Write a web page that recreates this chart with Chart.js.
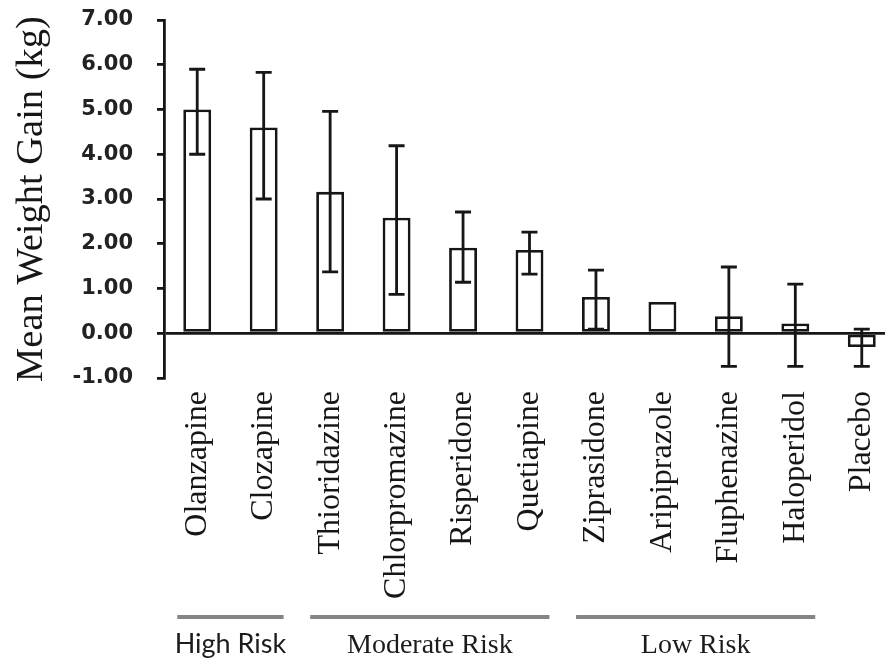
<!DOCTYPE html>
<html>
<head>
<meta charset="utf-8">
<title>Mean Weight Gain by Antipsychotic</title>
<script src="https://cdn.jsdelivr.net/npm/chart.js@4.4.0/dist/chart.umd.min.js"></script>
<style>
  html, body { margin: 0; padding: 0; background: #fff; overflow: hidden; }
  canvas { display: block; }
</style>
</head>
<body>
<canvas id="gainChart" width="895" height="664"></canvas>
<script>
const drugs = ['Olanzapine', 'Clozapine', 'Thioridazine', 'Chlorpromazine', 'Risperidone',
  'Quetiapine', 'Ziprasidone', 'Aripiprazole', 'Fluphenazine', 'Haloperidol', 'Placebo'];
const meanGain = [5.00, 4.60, 3.16, 2.58, 1.91, 1.86, 0.81, 0.70, 0.38, 0.22, -0.31];
const errLow  = [4.00, 3.00, 1.37, 0.87, 1.14, 1.32, 0.09, null, -0.74, -0.74, -0.74];
const errHigh = [5.90, 5.83, 4.96, 4.19, 2.71, 2.26, 1.41, null, 1.48, 1.10, 0.09];

const riskGroups = ['High Risk', 'Moderate Risk', 'Low Risk'];
const groupFirst = [0, 2, 6];
const groupLast  = [1, 5, 9];
const groupFonts = ['27px Lato, "Liberation Sans", Arial, sans-serif',
  '28px "Liberation Serif", "Times New Roman", serif',
  '28px "Liberation Serif", "Times New Roman", serif'];

const INK = '#161616';

// vertical error bars with caps, drawn over the bars
const errorBars = {
  id: 'errorBars',
  afterDatasetsDraw(chart) {
    const { ctx, scales: { x, y } } = chart;
    ctx.save();
    ctx.strokeStyle = INK;
    ctx.lineWidth = 2.8;
    drugs.forEach((d, i) => {
      if (errLow[i] == null) return;
      const cx = x.getPixelForValue(i);
      const yLo = y.getPixelForValue(errLow[i]);
      const yHi = y.getPixelForValue(errHigh[i]);
      ctx.beginPath();
      ctx.moveTo(cx, yLo); ctx.lineTo(cx, yHi);
      ctx.moveTo(cx - 8, yLo); ctx.lineTo(cx + 8, yLo);
      ctx.moveTo(cx - 8, yHi); ctx.lineTo(cx + 8, yHi);
      ctx.stroke();
    });
    ctx.restore();
  }
};

// grey brackets + risk labels under the drug names
const riskBrackets = {
  id: 'riskBrackets',
  afterDraw(chart) {
    const { ctx, scales: { x } } = chart;
    const step = x.getPixelForValue(1) - x.getPixelForValue(0);
    ctx.save();
    riskGroups.forEach((name, g) => {
      const x0 = x.getPixelForValue(groupFirst[g]) - step * 0.3;
      const x1 = x.getPixelForValue(groupLast[g]) + step * 0.3;
      ctx.strokeStyle = '#858585';
      ctx.lineWidth = 4;
      ctx.beginPath();
      ctx.moveTo(x0, 617); ctx.lineTo(x1, 617);
      ctx.stroke();
      ctx.fillStyle = '#1c1c1c';
      ctx.font = groupFonts[g];
      ctx.textAlign = 'center';
      ctx.textBaseline = 'alphabetic';
      ctx.fillText(name, (x0 + x1) / 2, 653);
    });
    ctx.restore();
  }
};

const whiteBg = {
  id: 'whiteBg',
  beforeDraw(chart) {
    const { ctx, width, height } = chart;
    ctx.save();
    ctx.fillStyle = '#fff';
    ctx.fillRect(0, 0, width, height);
    ctx.restore();
  }
};

new Chart(document.getElementById('gainChart'), {
  type: 'bar',
  data: {
    labels: drugs,
    datasets: [{
      label: 'Mean Weight Gain (kg)',
      data: meanGain,
      backgroundColor: '#fff',
      borderColor: INK,
      borderWidth: 2.8,
      borderSkipped: false,
      barPercentage: 0.42,
      categoryPercentage: 1
    }]
  },
  options: {
    responsive: false,
    animation: false,
    layout: { padding: { top: 20, left: 0, right: 0, bottom: 0 } },
    plugins: {
      legend: { display: false },
      tooltip: { enabled: false }
    },
    scales: {
      x: {
        afterFit(scale) {
          scale.height = 286;
          scale.paddingLeft = 0;
          scale.paddingRight = 0;
          scale.paddingTop = 0;
          scale.paddingBottom = 0;
        },
        grid: { display: false, drawTicks: false },
        border: { display: false },
        ticks: {
          autoSkip: false,
          minRotation: 90,
          maxRotation: 90,
          padding: 13,
          color: INK,
          font: { family: '"Liberation Serif", "Times New Roman", serif', size: 32 }
        }
      },
      y: {
        min: -1,
        max: 7,
        afterFit(scale) {
          scale.width = 164;
          scale.paddingTop = 0;
          scale.paddingBottom = 0;
        },
        border: { display: true, color: INK, width: 2.8 },
        grid: {
          color: c => (c.tick && c.tick.value === 0 ? INK : 'transparent'),
          lineWidth: 2.8,
          drawTicks: true,
          tickLength: 7,
          tickColor: INK,
          tickWidth: 2.8
        },
        ticks: {
          stepSize: 1,
          padding: 24,
          color: '#222',
          font: { family: '"DejaVu Sans", Verdana, sans-serif', size: 21, weight: 'bold' },
          callback: v => v.toFixed(2)
        },
        title: {
          display: true,
          text: 'Mean Weight Gain (kg)',
          color: INK,
          padding: { top: 9, bottom: 0 },
          font: { family: '"Liberation Serif", "Times New Roman", serif', size: 38.5 }
        }
      }
    }
  },
  plugins: [whiteBg, errorBars, riskBrackets]
});
</script>
</body>
</html>
